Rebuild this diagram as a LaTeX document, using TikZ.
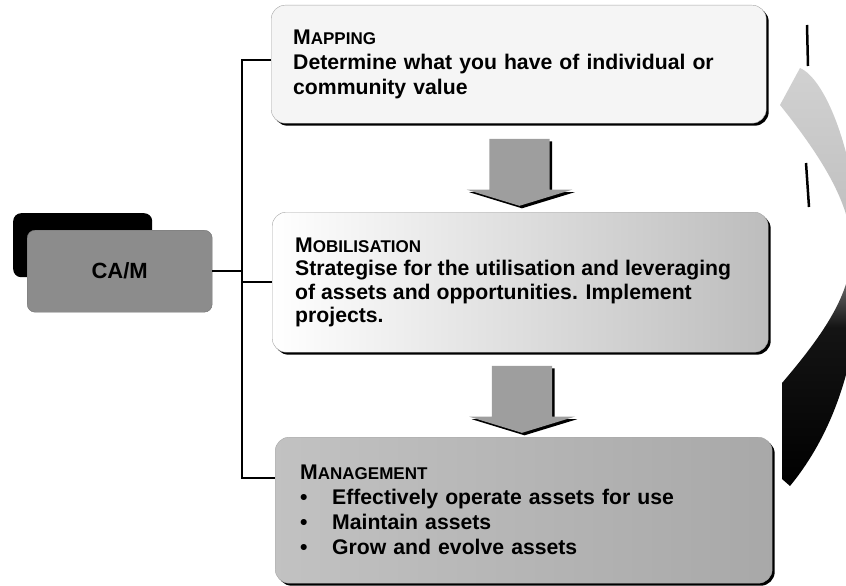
\documentclass[tikz,border=0pt]{standalone}
\usepackage{fontspec}
\setmainfont{Liberation Sans}
\usetikzlibrary{shapes.arrows,shadows,calc}

% pas de coupure de mots dans les boites
\hyphenpenalty=10000

% petites capitales faites main
\newcommand{\entete}[2]{#1{\fontsize{17}{17}\selectfont #2}}
\newcommand{\puce}{\makebox[32pt][l]{\textbullet}}

\pgfdeclareverticalshading{croissant}{100bp}{color(0bp)=(black); color(25bp)=(black); color(44bp)=(black!92); color(50bp)=(black!55); color(56bp)=(black!25); color(75bp)=(black!18); color(100bp)=(black!18)}

\begin{document}
\begin{tikzpicture}[x=1pt, y=-1pt]
	\tikzset{boite/.style={rectangle, rounded corners=14, draw=black!35, anchor=north west, align=left, inner ysep=0, font=\fontsize{21.2}{25}\selectfont\bfseries, general shadow={fill=black, shadow xshift=2.5pt, shadow yshift=-2.5pt}},
		fleche/.style={single arrow, rotate=-90, fill=black!38, inner xsep=0, inner ysep=30, minimum height=67, single arrow head extend=22.5, single arrow tip angle=146, general shadow={fill=black, shadow xshift=2.5pt, shadow yshift=-2.5pt}},
		lien/.style={line width=1.6}};

	\useasboundingbox (0,0) rectangle (846,586);

	% fleche courbe sur la droite
	\begin{scope}
		\clip (0,0) rectangle (846,586);
		\shade[shading=croissant] (800,68) .. controls (850,90) and (910,340) .. (790,486) -- (782,479) -- (782,383) .. controls (870,280) and (880,230) .. (780,105) -- cycle;
		\draw[line width=2.5] (807,25) -- (808,66);
		\draw[line width=2.5] (806,163) -- (809,207);
	\end{scope}

	% CA/M
	\node[fill=black, rounded corners=8, minimum width=139, minimum height=64, anchor=north west] (ombre) at (13,213) {};
	\node[fill=black!45, draw=black!55, rounded corners=8, minimum width=185, minimum height=82, anchor=north west, font=\fontsize{22}{26}\selectfont\bfseries] (cam) at (27,230) {CA/M};

	% les trois etapes
	\node[boite, fill=black!4, minimum width=495, minimum height=118, inner xsep=22, text width=451] (map) at (271,5) {\entete{M}{APPING}\\Determine what you have of individual or\\community value};
	\node[boite, left color=white, right color=black!26, minimum width=496, minimum height=140, inner xsep=23, font=\fontsize{21.2}{23.5}\selectfont\bfseries] (mob) at (272,212) {\makebox[450pt][l]{\entete{M}{OBILISATION}}\\Strategise for the utilisation and leveraging\\of assets and opportunities. Implement\\projects.};
	\node[boite, left color=black!24, right color=black!34, minimum width=497, minimum height=146, inner xsep=25, text width=447] (man) at (275,437) {\entete{M}{ANAGEMENT}\\\puce Effectively operate assets for use\\\puce Maintain assets\\\puce Grow and evolve assets};

	\node[fleche] (f1) at ($(map.south)!0.5!(mob.north)$) {};
	\node[fleche] (f2) at ($(mob.south)!0.5!(man.north)$) {};

	% arbre
	\coordinate (haut) at (242,60);
	\coordinate (bas) at (242,478);
	\draw[lien] (map.west |- haut) -- (haut) -- (bas) -- (bas -| man.west);
	\draw[lien] (cam.east) -- (cam.east -| haut);
	\draw[lien] (haut |- mob.west) -- (mob.west);

\end{tikzpicture}
\end{document}
